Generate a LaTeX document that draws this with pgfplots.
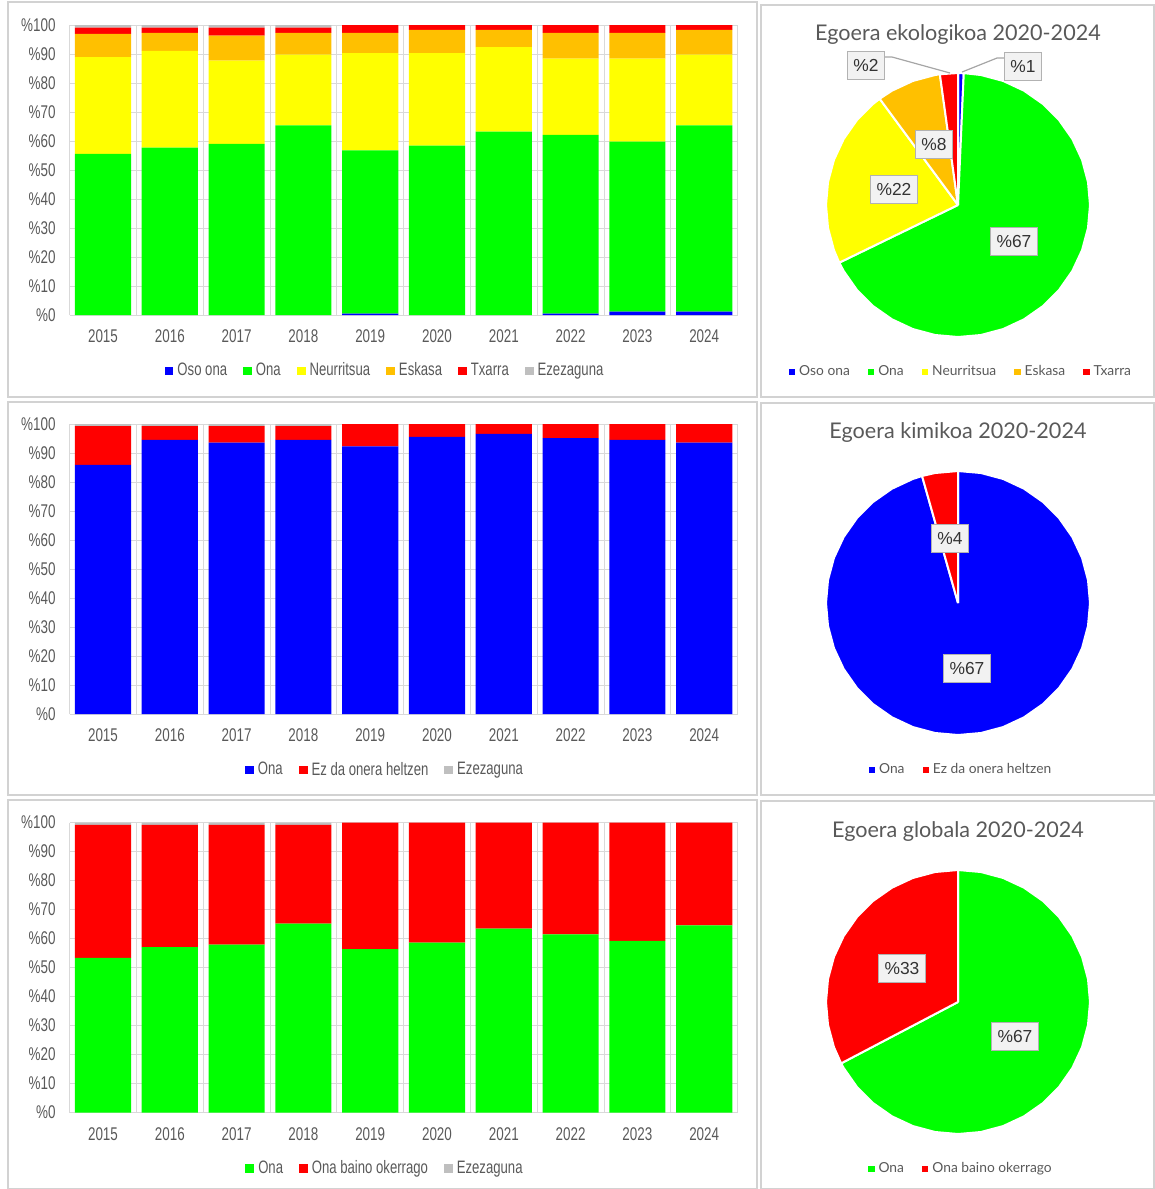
\documentclass[border=0pt]{standalone}
\usepackage{pgfplots}
\pgfplotsset{compat=1.18}
\usepackage{pgfplotstable}
\usepackage{fontspec}
\setmainfont{Liberation Sans}
\newfontfamily\narrow[FakeStretch=0.73]{Liberation Sans}
\newfontfamily\lato{Lato}

\definecolor{cblue}{RGB}{0,0,255}
\definecolor{cgreen}{RGB}{0,255,0}
\definecolor{cyellow}{RGB}{255,255,0}
\definecolor{corange}{RGB}{255,192,0}
\definecolor{cred}{RGB}{255,0,0}
\definecolor{cgray}{RGB}{191,191,191}
\definecolor{txt}{RGB}{89,89,89}
\definecolor{gridc}{RGB}{217,217,217}
\definecolor{framec}{RGB}{210,210,210}

% ecological status per year (% of water bodies)
\pgfplotstableread{
x oso ona neur esk txar ezez
0 0   55.6 33.3 8.0 2.2 0.9
1 0   57.7 33.4 6.2 1.8 0.9
2 0   59.0 28.7 8.6 2.8 0.9
3 0   65.4 24.4 7.5 1.8 0.9
4 0.5 56.3 33.5 7.0 2.7 0
5 0   58.4 31.9 8.0 1.7 0
6 0   63.2 29.2 5.9 1.7 0
7 0.5 61.6 26.3 8.9 2.7 0
8 1.2 58.6 28.6 8.9 2.7 0
9 1.2 64.2 24.4 8.5 1.7 0
}\ekotab
% chemical status
\pgfplotstableread{
x ona ez ezez
0 85.9 13.4 0.7
1 94.5 4.8  0.7
2 93.6 5.7  0.7
3 94.5 4.8  0.7
4 92.3 7.7  0
5 95.6 4.4  0
6 96.6 3.4  0
7 95.1 4.9  0
8 94.5 5.5  0
9 93.6 6.4  0
}\kimtab
% global status
\pgfplotstableread{
x ona oker ezez
0 53.3 45.9 0.8
1 57.0 42.2 0.8
2 57.9 41.3 0.8
3 65.1 34.1 0.8
4 56.3 43.7 0
5 58.6 41.4 0
6 63.4 36.6 0
7 61.4 38.6 0
8 59.2 40.8 0
9 64.5 35.5 0
}\globtab

\pgfplotsset{
  barchart/.style={
    width=334pt, height=145pt, scale only axis,
    ybar stacked, bar width=0.84,
    xmin=-0.5, xmax=9.5, ymin=0, ymax=100,
    xtick={0,...,9},
    xticklabels={2015,2016,2017,2018,2019,2020,2021,2022,2023,2024},
    ytick={0,10,...,100},
    yticklabels={\%0,\%10,\%20,\%30,\%40,\%50,\%60,\%70,\%80,\%90,\%100},
    minor xtick={-0.5,0.5,...,9.5},
    xminorgrids, ymajorgrids,
    grid style={gridc, line width=0.5pt},
    minor grid style={gridc, line width=0.5pt},
    major tick length=0pt, minor tick length=0pt,
    axis line style={draw=none},
    tick label style={font=\narrow\fontsize{9.2}{10}\selectfont, text=txt},
    xticklabel style={yshift=-4pt},
    yticklabel style={xshift=-3.5pt},
    legend style={at={(0.4737,-0.193)}, anchor=center, draw=none, fill=none,
      legend columns=-1, font=\narrow\fontsize{9}{10}\selectfont, text=txt,
      /tikz/every even column/.append style={column sep=6pt}},
    every axis plot post/.append style={draw=none,
      legend image code/.code={\fill[##1,draw=none] (0pt,-2.2pt) rectangle (4.4pt,2.2pt);}},
  },
  pie/.style={
    width=132pt, height=132pt, scale only axis,
    xmin=-1, xmax=1, ymin=-1, ymax=1,
    hide axis, clip=false, data cs=polar,
    legend style={at={(0.515,-0.1326)}, anchor=center, draw=none, fill=none,
      legend columns=-1, font=\lato\fontsize{6.9}{8}\selectfont, text=txt,
      /tikz/every even column/.append style={column sep=7pt}},
    every axis plot/.append style={draw=white, line width=1pt, line join=round},
    legend image code/.code={\fill[##1,draw=none] (0pt,-1.6pt) rectangle (3.2pt,1.6pt);},
  },
}

\begin{document}
\begin{tikzpicture}

\begin{scope}[x=0.5pt,y=-0.5pt]
  \draw[framec, line width=1pt] (8,2) rectangle (757,397);
  \draw[framec, line width=1pt] (761,5) rectangle (1154,397);
  \draw[framec, line width=1pt] (8,402) rectangle (757,795);
  \draw[framec, line width=1pt] (761,403) rectangle (1154,795);
  \draw[framec, line width=1pt] (8,800) rectangle (757,1189);
  \draw[framec, line width=1pt] (761,801) rectangle (1154,1189);
\end{scope}

% ---- bar chart 1: ecological status
\begin{axis}[barchart, at={(34.8pt,-157.5pt)}, anchor=south west]
\addplot[fill=cblue] table[x=x,y=oso]{\ekotab};
\addplot[fill=cgreen] table[x=x,y=ona]{\ekotab};
\addplot[fill=cyellow] table[x=x,y=neur]{\ekotab};
\addplot[fill=corange] table[x=x,y=esk]{\ekotab};
\addplot[fill=cred] table[x=x,y=txar]{\ekotab};
\addplot[fill=cgray] table[x=x,y=ezez]{\ekotab};
\legend{Oso ona, Ona, Neurritsua, Eskasa, Txarra, Ezezaguna}
\end{axis}

% ---- bar chart 2: chemical status
\begin{axis}[barchart, at={(34.8pt,-357pt)}, anchor=south west]
\addplot[fill=cblue] table[x=x,y=ona]{\kimtab};
\addplot[fill=cred] table[x=x,y=ez]{\kimtab};
\addplot[fill=cgray] table[x=x,y=ezez]{\kimtab};
\legend{Ona, Ez da onera heltzen, Ezezaguna}
\end{axis}

% ---- bar chart 3: global status
\begin{axis}[barchart, at={(34.8pt,-556.25pt)}, anchor=south west]
\addplot[fill=cgreen] table[x=x,y=ona]{\globtab};
\addplot[fill=cred] table[x=x,y=oker]{\globtab};
\addplot[fill=cgray] table[x=x,y=ezez]{\globtab};
\legend{Ona, Ona baino okerrago, Ezezaguna}
\end{axis}

% ---- pie 1 (angle, radius); clockwise from the top
% Oso ona 0.7, Ona 67.1, Neurritsua 22.1, Eskasa 7.9, Txarra 2.2
\begin{axis}[pie, at={(479pt,-102.5pt)}, anchor=center]
\addplot[fill=cblue] coordinates {(0,0) (90,1) (87.5,1) (0,0)};
\addplot[fill=cgreen] coordinates {(0,0) (87.5,1) (80,1) (70,1) (60,1) (50,1) (40,1) (30,1) (20,1) (10,1) (0,1)
  (-10,1) (-20,1) (-30,1) (-40,1) (-50,1) (-60,1) (-70,1) (-80,1) (-90,1) (-100,1) (-110,1) (-120,1)
  (-130,1) (-140,1) (-150,1) (-154.1,1) (0,0)};
\addplot[fill=cyellow] coordinates {(0,0) (-154.1,1) (-160,1) (-170,1) (-180,1) (-190,1) (-200,1) (-210,1)
  (-220,1) (-230,1) (-233.6,1) (0,0)};
\addplot[fill=corange] coordinates {(0,0) (-233.6,1) (-240,1) (-250,1) (-260,1) (-262.1,1) (0,0)};
\addplot[fill=cred] coordinates {(0,0) (-262.1,1) (-270,1) (0,0)};
\legend{Oso ona, Ona, Neurritsua, Eskasa, Txarra}
\end{axis}

% ---- pie 2: Ona 95.6, Ez da onera heltzen 4.4
\begin{axis}[pie, at={(479pt,-301.5pt)}, anchor=center]
\addplot[fill=cblue] coordinates {(0,0) (90,1) (80,1) (70,1) (60,1) (50,1) (40,1) (30,1) (20,1) (10,1) (0,1)
  (-10,1) (-20,1) (-30,1) (-40,1) (-50,1) (-60,1) (-70,1) (-80,1) (-90,1) (-100,1) (-110,1) (-120,1)
  (-130,1) (-140,1) (-150,1) (-160,1) (-170,1) (-180,1) (-190,1) (-200,1) (-210,1) (-220,1) (-230,1)
  (-240,1) (-250,1) (-254.2,1) (0,0)};
\addplot[fill=cred] coordinates {(0,0) (-254.2,1) (-260,1) (-270,1) (0,0)};
\legend{Ona, Ez da onera heltzen}
\end{axis}

% ---- pie 3: Ona 67.3, Ona baino okerrago 32.7
\begin{axis}[pie, at={(479pt,-501pt)}, anchor=center]
\addplot[fill=cgreen] coordinates {(0,0) (90,1) (80,1) (70,1) (60,1) (50,1) (40,1) (30,1) (20,1) (10,1) (0,1)
  (-10,1) (-20,1) (-30,1) (-40,1) (-50,1) (-60,1) (-70,1) (-80,1) (-90,1) (-100,1) (-110,1) (-120,1)
  (-130,1) (-140,1) (-150,1) (-152.3,1) (0,0)};
\addplot[fill=cred] coordinates {(0,0) (-152.3,1) (-160,1) (-170,1) (-180,1) (-190,1) (-200,1) (-210,1)
  (-220,1) (-230,1) (-240,1) (-250,1) (-260,1) (-270,1) (0,0)};
\legend{Ona, Ona baino okerrago}
\end{axis}

\begin{scope}[x=0.5pt,y=-0.5pt,
  ttl/.style={font=\lato\fontsize{10.8}{12}\selectfont, text=txt},
  lbl/.style={draw=black!30, fill=black!5, font=\fontsize{8.7}{10}\selectfont, text=black!80,
    text height=6.3pt, text depth=0pt, inner xsep=3pt, inner ysep=3.8pt}]
  \node[ttl] at (958,35) {Egoera ekologikoa 2020-2024};
  \node[ttl] at (958,433) {Egoera kimikoa 2020-2024};
  \node[ttl] at (958,832) {Egoera globala 2020-2024};
  \draw[black!35, line width=0.6pt] (884,57) -- (892,57) -- (950,73);
  \draw[black!35, line width=0.6pt] (1006,58) -- (997,58) -- (962,72);
  \node[lbl] at (866,65) {\%2};
  \node[lbl] at (1023,66) {\%1};
  \node[lbl] at (934,144) {\%8};
  \node[lbl] at (894,189) {\%22};
  \node[lbl] at (1014,241) {\%67};
  \node[lbl] at (950,538) {\%4};
  \node[lbl] at (967,668) {\%67};
  \node[lbl] at (902,968) {\%33};
  \node[lbl] at (1015,1036) {\%67};
  \pgfresetboundingbox
  \path[use as bounding box] (0,0) rectangle (1155,1189);
\end{scope}

\end{tikzpicture}
\end{document}
